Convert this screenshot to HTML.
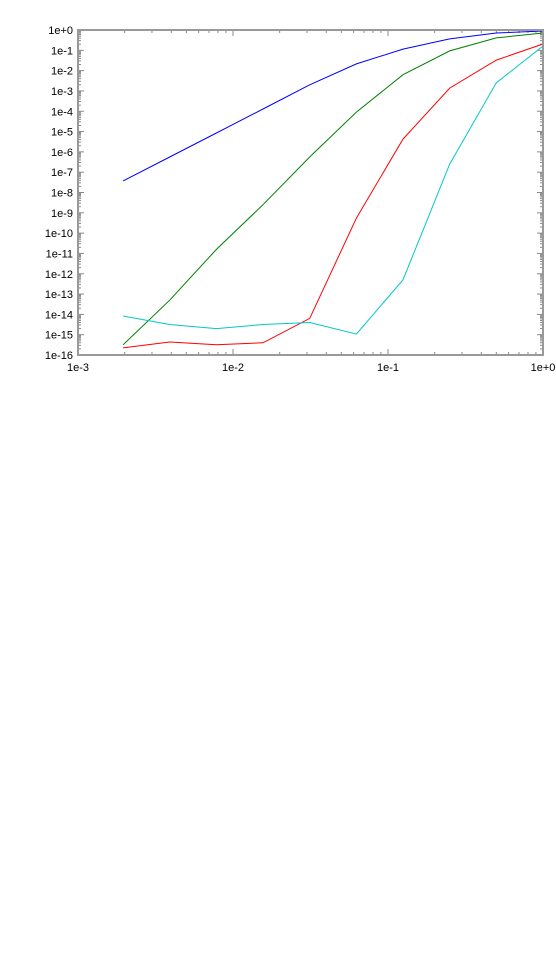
<!DOCTYPE html>
<html><head><meta charset="utf-8"><style>
html,body{margin:0;padding:0;background:#fff;}
svg{display:block;font-family:"Liberation Sans",sans-serif;}
</style></head><body>
<svg id="chart" width="556" height="962" viewBox="0 0 556 962" xmlns="http://www.w3.org/2000/svg">
<g id="grid"></g>
<g id="series"></g>
<rect x="78" y="30" width="465" height="325" fill="none" stroke="#999" stroke-width="2"/>
<g id="labels"></g>
</svg>
<script>
const xValues = [1/512, 1/256, 1/128, 1/64, 1/32, 1/16, 1/8, 1/4, 1/2, 1];
const blueExp  = [-7.43, -6.25, -5.07, -3.89, -2.7, -1.67, -0.94, -0.44, -0.15, -0.05];
const greenExp = [-15.5, -13.3, -10.8, -8.6, -6.25, -4.04, -2.2, -1.03, -0.39, -0.15];
const redExp   = [-15.65, -15.36, -15.5, -15.4, -14.2, -9.26, -5.37, -2.86, -1.48, -0.69];
const cyanExp  = [-14.08, -14.5, -14.7, -14.5, -14.4, -14.97, -12.3, -6.6, -2.6, -0.79];
const xTickExps = [-3, -2, -1, 0];
const xTickLabels = ["1e-3", "1e-2", "1e-1", "1e+0"];
const yTickExps = [0,-1,-2,-3,-4,-5,-6,-7,-8,-9,-10,-11,-12,-13,-14,-15,-16];

const L=78,R=543,T=30,B=355;
const xs = v => L + (Math.log10(v) + 3) / 3 * (R - L);
const ys = e => T + (0 - e) / 16 * (B - T);
const NS="http://www.w3.org/2000/svg";
const grid=document.getElementById('grid'), ser=document.getElementById('series'), lab=document.getElementById('labels');
function mk(tag, attrs, parent){const el=document.createElementNS(NS,tag);for(const k in attrs)el.setAttribute(k,attrs[k]);parent.appendChild(el);return el;}

// x ticks
for (let d=-3; d<0; d++){
  for (let m=1; m<10; m++){
    const x = xs(m*Math.pow(10,d));
    const len = m===1?6:3;
    const t1=mk('line',{x1:x,x2:x,y1:B,y2:B-len,stroke:'#888','stroke-width':1},grid);
    
    
    const t2=mk('line',{x1:x,x2:x,y1:T,y2:T+len,stroke:'#888','stroke-width':1},grid);
    
    
  }
}
xTickExps.forEach((e,i)=>{
  const t=mk('text',{x:xs(Math.pow(10,e)),y:B+16,'font-size':11,'text-anchor':'middle',fill:'#000'},lab);
  t.textContent=xTickLabels[i];
  
  
});
// y ticks
for (let d=-16; d<0; d++){
  for (let m=1; m<10; m++){
    const y = ys(d + Math.log10(m));
    const len = m===1?6:3;
    const t1=mk('line',{x1:L,x2:L+len,y1:y,y2:y,stroke:'#888','stroke-width':1},grid);
    
    
    const t2=mk('line',{x1:R,x2:R-len,y1:y,y2:y,stroke:'#888','stroke-width':1},grid);
    
    
  }
}
yTickExps.forEach(e=>{
  const t=mk('text',{x:L-5,y:ys(e)+4,'font-size':11,'text-anchor':'end',fill:'#000'},lab);
  t.textContent = e===0 ? '1e+0' : '1e'+e;
  
  
});
// series
[[blueExp,'#0000ff','blue-series'],[greenExp,'#008000','green-series'],[redExp,'#ff0000','red-series'],[cyanExp,'#00c8c8','cyan-series']].forEach(([arr,c,n])=>{
  const pts = arr.map((e,i)=>xs(xValues[i]).toFixed(1)+','+ys(e).toFixed(1)).join(' ');
  const p=mk('polyline',{points:pts,fill:'none',stroke:c,'stroke-width':1},ser);
  
  
});
</script>
</body></html>
